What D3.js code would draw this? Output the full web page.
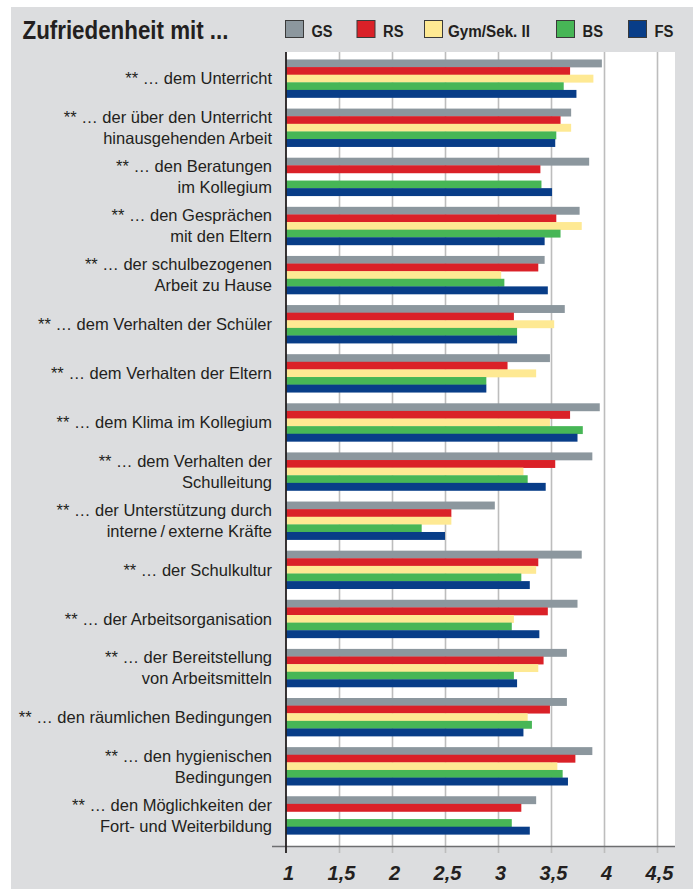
<!DOCTYPE html>
<html lang="de">
	<head>
		<meta charset="utf-8">
		<title>Zufriedenheit</title>
		<script type="text/javascript" src="https://cdn.jsdelivr.net/npm/d3@7"></script>
		<style type="text/css">
			html, body{
				margin: 0;
				padding: 0;
				background-color: white;
				overflow: hidden;
			}
			.label{
				font-family: 'Liberation Sans', Arial, sans-serif;
				font-size: 16.5px;
				fill: #231f20;
				text-anchor: end;
			}
			.legend_text{
				font-family: 'Liberation Sans', Arial, sans-serif;
				font-weight: bold;
				font-size: 16px;
				fill: #231f20;
			}
			.title{
				font-family: 'Liberation Sans', Arial, sans-serif;
				font-weight: bold;
				font-size: 25px;
				fill: #231f20;
			}
			.tick_label text{
				font-family: 'Liberation Sans', Arial, sans-serif;
				font-weight: bold;
				font-style: italic;
				font-size: 20px;
				fill: #231f20;
			}
		</style>
	</head>
	<body>
		<div id="chart"></div>
		<script type="text/javascript">

			// categories (one or two text lines each)
			var categories = [
				["** … dem Unterricht"],
				["** … der über den Unterricht", "hinausgehenden Arbeit"],
				["** … den Beratungen", "im Kollegium"],
				["** … den Gesprächen", "mit den Eltern"],
				["** … der schulbezogenen", "Arbeit zu Hause"],
				["** … dem Verhalten der Schüler"],
				["** … dem Verhalten der Eltern"],
				["** … dem Klima im Kollegium"],
				["** … dem Verhalten der", "Schulleitung"],
				["** … der Unterstützung durch", "interne\u2009/\u2009externe Kräfte"],
				["** … der Schulkultur"],
				["** … der Arbeitsorganisation"],
				["** … der Bereitstellung", "von Arbeitsmitteln"],
				["** … den räumlichen Bedingungen"],
				["** … den hygienischen", "Bedingungen"],
				["** … den Möglichkeiten der", "Fort- und Weiterbildung"]
			];

			var seriesNames = ["GS", "RS", "Gym/Sek. II", "BS", "FS"];
			var seriesColors = ["#8c979e", "#da2128", "#fee993", "#47b656", "#083d88"];

			var gs  = [3.98, 3.69, 3.86, 3.77, 3.44, 3.63, 3.49, 3.96, 3.89, 2.97, 3.79, 3.75, 3.65, 3.65, 3.89, 3.36];
			var rs  = [3.68, 3.59, 3.40, 3.55, 3.38, 3.15, 3.09, 3.68, 3.54, 2.56, 3.38, 3.47, 3.43, 3.49, 3.73, 3.22];
			var gym = [3.90, 3.69, null, 3.79, 3.03, 3.53, 3.36, 3.49, 3.24, 2.56, 3.36, 3.15, 3.38, 3.28, 3.56, null];
			var bs  = [3.62, 3.55, 3.41, 3.59, 3.06, 3.18, 2.89, 3.80, 3.28, 2.28, 3.22, 3.13, 3.15, 3.32, 3.61, 3.13];
			var fs  = [3.74, 3.54, 3.51, 3.44, 3.47, 3.18, 2.89, 3.75, 3.45, 2.50, 3.30, 3.39, 3.18, 3.24, 3.66, 3.30];

			var tickValues = [1, 1.5, 2, 2.5, 3, 3.5, 4, 4.5];

			var allSeries = [gs, rs, gym, bs, fs];

			var w = 693, h = 889;
			var plotLeft = 286, plotRight = 675, plotTop = 52, plotBottom = 846.5;

			var svg = d3.select("#chart")
						.append("svg")
						.attr("width", w)
						.attr("height", h);

			// grey panel
			svg.append("rect")
				.attr("x", 11).attr("y", 7)
				.attr("width", w - 11).attr("height", h - 7)
				.attr("fill", "#dcdddf");

			// white plot area
			svg.append("rect")
				.attr("x", plotLeft).attr("y", plotTop)
				.attr("width", plotRight - plotLeft).attr("height", plotBottom - plotTop)
				.attr("fill", "white");

			var xScale = d3.scaleLinear()
							.domain([1, 4.5])
							.range([286, 657]);

			var yScale = d3.scaleBand()
							.domain(d3.range(categories.length))
							.range([plotTop, plotBottom])
							.paddingInner(0.225)
							.paddingOuter(0.2)
							.align(0.38);

			var ySub = d3.scaleBand()
							.domain(d3.range(seriesNames.length))
							.range([0, yScale.bandwidth()]);

			// gridlines (extend a bit below the axis as ticks)
			var grid = svg.append("g")
				.attr("transform", "translate(0," + plotBottom + ")")
				.call(d3.axisBottom(xScale)
					.tickValues(tickValues.slice(1))
					.tickSize(6.5)
					.tickFormat(""));
			grid.select(".domain").remove();
			grid.selectAll(".tick line")
				.attr("y1", -(plotBottom - plotTop))
				.attr("stroke", "#bdbdbd")
				.attr("stroke-width", 1.6);

			// bars
			var groups = svg.selectAll("g.group")
				.data(categories)
				.enter()
				.append("g")
				.attr("class", "group")
				.attr("transform", function(d, i){ return "translate(0," + yScale(i) + ")"; });

			groups.selectAll("rect")
				.data(function(d, i){
					return allSeries.map(function(s, j){ return {s: j, v: s[i]}; })
									.filter(function(e){ return e.v != null; });
				})
				.enter()
				.append("rect")
				.attr("x", xScale(1))
				.attr("y", function(d){ return ySub(d.s); })
				.attr("width", function(d){ return xScale(d.v) - xScale(1); })
				.attr("height", ySub.bandwidth() + 0.3)
				.attr("fill", function(d){ return seriesColors[d.s]; });

			// category labels
			groups.each(function(lines, i){
				var g = d3.select(this);
				var c = yScale.bandwidth() / 2;
				var base = lines.length == 1 ? [c + 6] : [c - 4.5, c + 16.5];
				lines.forEach(function(t, k){
					g.append("text")
						.attr("class", "label")
						.attr("x", 272)
						.attr("y", base[k])
						.text(t);
				});
			});

			// bottom axis
			var xAxis = svg.append("g")
				.attr("class", "tick_label")
				.attr("transform", "translate(0," + plotBottom + ")")
				.call(d3.axisBottom(xScale)
					.tickValues(tickValues)
					.tickSize(0)
					.tickFormat(function(d){ return String(d).replace(".", ","); }));
			xAxis.select(".domain").remove();
			xAxis.selectAll(".tick text")
				.attr("y", 33.5)
				.attr("dy", null)
				.attr("dx", 2);

			svg.append("line")
				.attr("x1", 272).attr("x2", plotRight)
				.attr("y1", plotBottom).attr("y2", plotBottom)
				.attr("stroke", "#6d6e70")
				.attr("stroke-width", 1.6);

			// vertical axis at 1
			svg.append("line")
				.attr("x1", xScale(1)).attr("x2", xScale(1))
				.attr("y1", plotTop).attr("y2", plotBottom + 6.5)
				.attr("stroke", "#231f20")
				.attr("stroke-width", 1.8);

			// title
			svg.append("text")
				.attr("class", "title")
				.attr("x", 22.5)
				.attr("y", 39)
				.attr("textLength", 206)
				.attr("lengthAdjust", "spacingAndGlyphs")
				.text("Zufriedenheit mit ...");

			// legend
			var legendX = [285, 356.5, 424, 556, 628];
			var legendW = [21, 20.5, 82, 20.5, 19];
			var legend = svg.selectAll("g.legend")
				.data(seriesNames)
				.enter()
				.append("g")
				.attr("class", "legend")
				.attr("transform", function(d, i){ return "translate(" + legendX[i] + ",20)"; });

			legend.append("rect")
				.attr("x", 0.5).attr("y", 0.5)
				.attr("width", 18).attr("height", 17)
				.attr("fill", function(d, i){ return seriesColors[i]; })
				.attr("stroke", "#3a3a3a")
				.attr("stroke-width", 1);

			legend.append("text")
				.attr("class", "legend_text")
				.attr("x", function(d){ return d == "Gym/Sek. II" ? 24 : 26.5; })
				.attr("y", 16.5)
				.attr("textLength", function(d, i){ return legendW[i]; })
				.attr("lengthAdjust", "spacingAndGlyphs")
				.text(function(d){ return d; });

		</script>
	</body>
</html>
